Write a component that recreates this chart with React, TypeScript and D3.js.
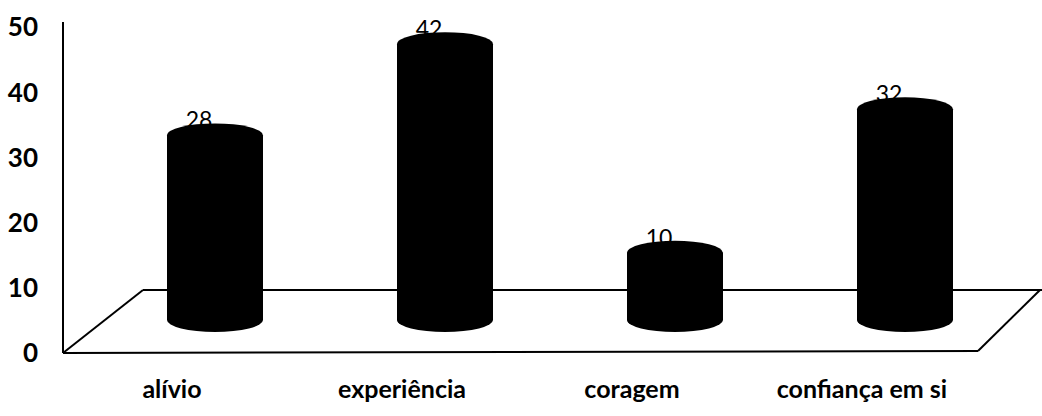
import React from 'react';
import * as d3 from 'd3';

const categories = ['alívio', 'experiência', 'coragem', 'confiança em si'];
const values = [28, 42, 10, 32];
const yTicks = [0, 10, 20, 30, 40, 50];

export default function App() {
  const W = 1042;
  const H = 416;
  const y = d3.scaleLinear().domain([0, 50]).range([353, 27]);
  const x = d3.scaleBand<string>().domain(categories).range([57, 977]);
  const axisX = 63;
  const frontRight = 978;
  const depthLeftX = 80;
  const depthRightX = 62;
  const depthY = 63;
  const barShiftX = 43;
  const barShiftY = 35;
  const rx = 48;
  const ry = 12;
  const labelShift = 27;
  const font = 'Lato, "Open Sans", sans-serif';

  const y0 = y(0);
  const backY = y0 - depthY;

  return (
    <svg width={W} height={H} style={{ position: 'absolute', left: 0, top: 0, background: '#fff' }}>
      <rect x={0} y={0} width={W} height={H} fill="#fff" />
      {/* floor */}
      <g stroke="#000" strokeWidth={2} fill="none">
        <line x1={axisX + depthLeftX} y1={backY} x2={W} y2={backY} />
        <line x1={axisX} y1={y0} x2={axisX + depthLeftX} y2={backY} />
        <line x1={axisX} y1={y0} x2={frontRight} y2={y0 - 2} />
        <line x1={frontRight} y1={y0 - 2} x2={frontRight + depthRightX} y2={backY} />
        <line x1={axisX} y1={y(50) - 5} x2={axisX} y2={y0} />
      </g>
      {/* y ticks */}
      {yTicks.map((t) => (
        <text key={t} x={38} y={y(t)} dy="0.36em" textAnchor="end" fontFamily={font} fontWeight={700} fontSize={26} fill="#000">
          {t}
        </text>
      ))}
      {/* value labels */}
      {categories.map((c, i) => {
        const cx = (x(c) as number) + x.bandwidth() / 2;
        const top = y(values[i]) - barShiftY;
        return (
          <text key={'v' + c} x={cx + labelShift} y={top - ry + 5} textAnchor="middle" fontFamily={font} fontSize={23} fill="#000">
            {values[i]}
          </text>
        );
      })}
      {/* cylinders */}
      {categories.map((c, i) => {
        const cx = (x(c) as number) + x.bandwidth() / 2 + barShiftX;
        const top = y(values[i]) - barShiftY;
        const bot = y(0) - barShiftY + 2;
        return (
          <g key={'b' + c} fill="#000">
            <rect x={cx - rx} y={top} width={rx * 2} height={bot - top} />
            <ellipse cx={cx} cy={top} rx={rx} ry={ry} />
            <ellipse cx={cx} cy={bot} rx={rx} ry={ry} />
          </g>
        );
      })}
      {/* category labels */}
      {categories.map((c) => (
        <text key={'c' + c} x={(x(c) as number) + x.bandwidth() / 2} y={398} textAnchor="middle" fontFamily={font} fontWeight={700} fontSize={25} fill="#000">
          {c}
        </text>
      ))}
    </svg>
  );
}
